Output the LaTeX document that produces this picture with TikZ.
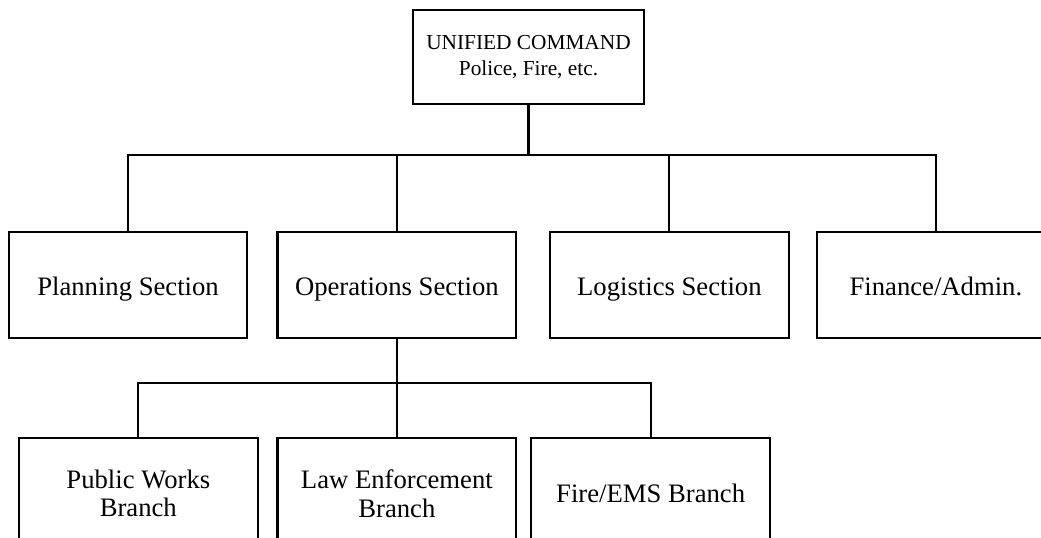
\documentclass[tikz,border=0pt]{standalone}
\usepackage{fontspec}
\setmainfont{Liberation Serif}
\usetikzlibrary{positioning}
\tikzset{
  org node/.style={
    rectangle, draw, line width=1.6pt, inner sep=0pt,
    align=center, minimum width=179pt, minimum height=#1,
    font=\fontsize{20}{21.5}\selectfont
  },
  command node/.style={org node=70.5pt, minimum width=173pt,
    font=\fontsize{16}{19.5}\selectfont},
  section node/.style={org node=79.5pt, text height=17pt, text depth=1pt},
  branch node/.style={org node=83pt},
  link/.style={line width=1.6pt},
}

\begin{document}
\begin{tikzpicture}[x=0.75pt, y=-0.75pt]

  \useasboundingbox (0,0) rectangle (1041,537);
  \clip (0,0) rectangle (1041,537);

  % -- command ---------------------------------------------------------
  \node[command node] (ucmd) at (528.5,57)
    {UNIFIED COMMAND\\Police, Fire, etc.};

  % -- sections --------------------------------------------------------
  \node[section node] (ops) at (396.85,284.7) {Operations Section};
  \node[section node, left=21pt of ops]     (plan)    {Planning Section};
  \node[section node, right=23.8pt of ops]  (logist)  {Logistics Section};
  \node[section node, right=19.3pt of logist] (finance) {Finance/Admin.};

  % -- branches --------------------------------------------------------
  \node[branch node, below=73.7pt of ops]  (law)    {Law Enforcement\\Branch};
  \node[branch node, left=13.3pt of law]   (works)  {Public Works\\Branch};
  \node[branch node, right=9.75pt of law]  (fireems) {Fire/EMS Branch};

  % -- links -----------------------------------------------------------
  \draw[link] (ucmd.south) -- ++(0,-37.3pt) -| (plan.north);
  \draw[link] (ucmd.south) -- ++(0,-37.3pt) -| (ops.north);
  \draw[link] (ucmd.south) -- ++(0,-37.3pt) -| (logist.north);
  \draw[link] (ucmd.south) -- ++(0,-37.3pt) -| (finance.north);
  \draw[link] (ops.south)  -- ++(0,-33pt) -| (works.north);
  \draw[link] (ops.south)  -- (law.north);
  \draw[link] (ops.south)  -- ++(0,-33pt) -| (fireems.north);

\end{tikzpicture}
\end{document}
